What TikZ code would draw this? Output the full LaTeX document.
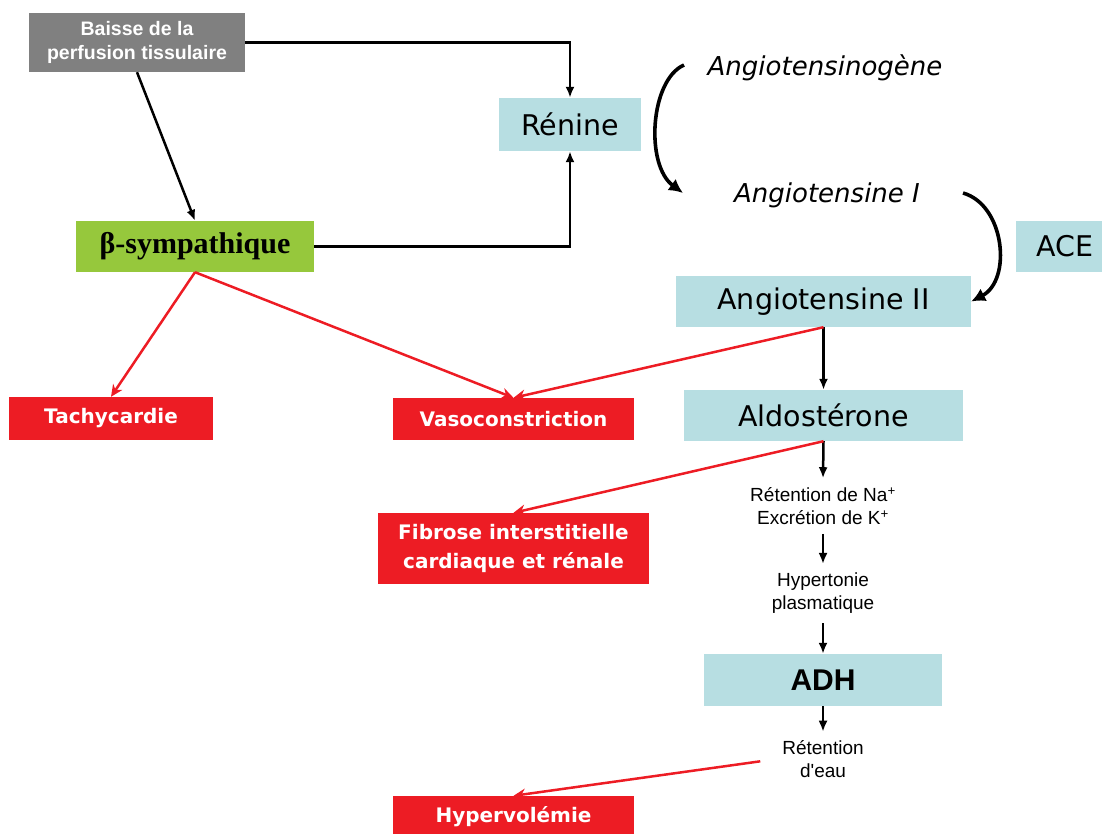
\documentclass[tikz,border=0pt]{standalone}
\usepackage{fontspec}
\usetikzlibrary{arrows.meta}
\newfontfamily\dvs{DejaVu Sans}
\newfontfamily\lsans{Liberation Sans}
\newfontfamily\lserif{Liberation Serif}
\definecolor{gris}{RGB}{128,128,128}
\definecolor{bleu}{RGB}{183,222,226}
\definecolor{vert}{RGB}{150,200,60}
\definecolor{rouge}{RGB}{237,28,36}

\tikzset{
  enzyme/.style={fill=bleu, inner sep=0pt, font=\dvs\fontsize{28.5}{34}\selectfont},
  effet/.style={fill=rouge, text=white, inner sep=0pt, align=center, font=\dvs\bfseries\fontsize{20}{29}\selectfont},
  etape/.style={inner sep=9pt, align=center, font=\lsans\fontsize{19}{23}\selectfont},
  angio/.style={inner sep=2pt, font=\dvs\itshape\fontsize{26}{30}\selectfont},
  fleche/.style={line width=2.5pt, -{Latex[length=11pt,width=9pt]}},
  rfleche/.style={rouge, line width=2.5pt, -{Stealth[length=12pt,width=11pt]}},
  cfleche/.style={line width=3.6pt, -{Latex[length=14pt,width=14pt]}},
}

\begin{document}
\begin{tikzpicture}[x=1pt,y=-1pt]
	\useasboundingbox (0,0) rectangle (1102,834);
	\clip (0,0) rectangle (1102,834);

	% colonne de gauche
	\node[fill=gris, text=white, inner sep=0pt, align=center, minimum width=216pt, minimum height=59pt,
		font=\lsans\bfseries\fontsize{19.5}{24}\selectfont] (baisse) at (137,42.5) {Baisse de la\\perfusion tissulaire};
	\node[fill=vert, inner sep=0pt, minimum width=238pt, minimum height=51pt,
		font=\lserif\bfseries\fontsize{30}{34}\selectfont] (symp) at (195,246.5) {β-sympathique};
	\node[enzyme, minimum width=142pt, minimum height=53pt] (renine) at (570,124.5) {Rénine};

	% cascade
	\node[angio] (agen) at (825,68) {Angiotensinogène};
	\node[angio] (ang1) at (827,195) {Angiotensine I};
	\node[enzyme, minimum width=98pt, minimum height=51pt] (ace) at (1065,246.5) {ACE};
	\node[enzyme, minimum width=295pt, minimum height=51pt] (ang2) at (823.5,301.5) {Angiotensine II};
	\node[enzyme, minimum width=279pt, minimum height=51pt] (aldo) at (823.5,415.5) {Aldostérone};
	\node[etape] (na) at (823,506) {Rétention de Na\textsuperscript{+}\\Excrétion de K\textsuperscript{+}};
	\node[etape] (hyper) at (823,593.5) {Hypertonie\\plasmatique};
	\node[enzyme, minimum width=238pt, minimum height=52pt,
		font=\lsans\bfseries\fontsize{30}{34}\selectfont] (adh) at (823,680) {ADH};
	\node[etape] (eau) at (823,759.5) {Rétention\\d'eau};

	% effets
	\node[effet, minimum width=204pt, minimum height=43pt] (tachy) at (111,418.5) {Tachycardie};
	\node[effet, minimum width=241pt, minimum height=42pt] (vaso) at (513.5,419) {Vasoconstriction};
	\node[effet, minimum width=271pt, minimum height=71pt] (fib) at (513.5,548.5) {Fibrose interstitielle\\cardiaque et rénale};
	\node[effet, minimum width=241pt, minimum height=42pt] (hvol) at (513.5,817) {Hypervolémie};

	% fleches noires
	\draw[fleche] (baisse.east) -| (renine.north);
	\draw[fleche] (symp.east) -| (renine.south);
	\draw[fleche] (baisse.south) -- (symp.north);
	\draw[fleche] (ang2.south) -- (aldo.north);
	\draw[fleche] (aldo.south) -- (na.north);
	\draw[fleche] (na.south) -- (hyper.north);
	\draw[fleche] (hyper.south) -- (adh.north);
	\draw[fleche] (adh.south) -- (eau.north);

	\coordinate (c1) at (684,65);
	\coordinate (c2) at (683,193);
	\coordinate (c3) at (963,193);
	\draw[cfleche] (c1) .. controls (650,80) and (645,165) .. (c2);
	\draw[cfleche] (c3) .. controls (1005,205) and (1012,280) .. (ang2.east);

	% fleches rouges
	\draw[rfleche] (symp.south) -- (tachy.north);
	\draw[rfleche] (symp.south) -- (vaso.north);
	\draw[rfleche] (ang2.south) -- (vaso.north);
	\draw[rfleche] (aldo.south) -- (fib.north);
	\draw[rfleche, shorten <=13pt] (eau.west) -- (hvol.north);
\end{tikzpicture}
\end{document}
